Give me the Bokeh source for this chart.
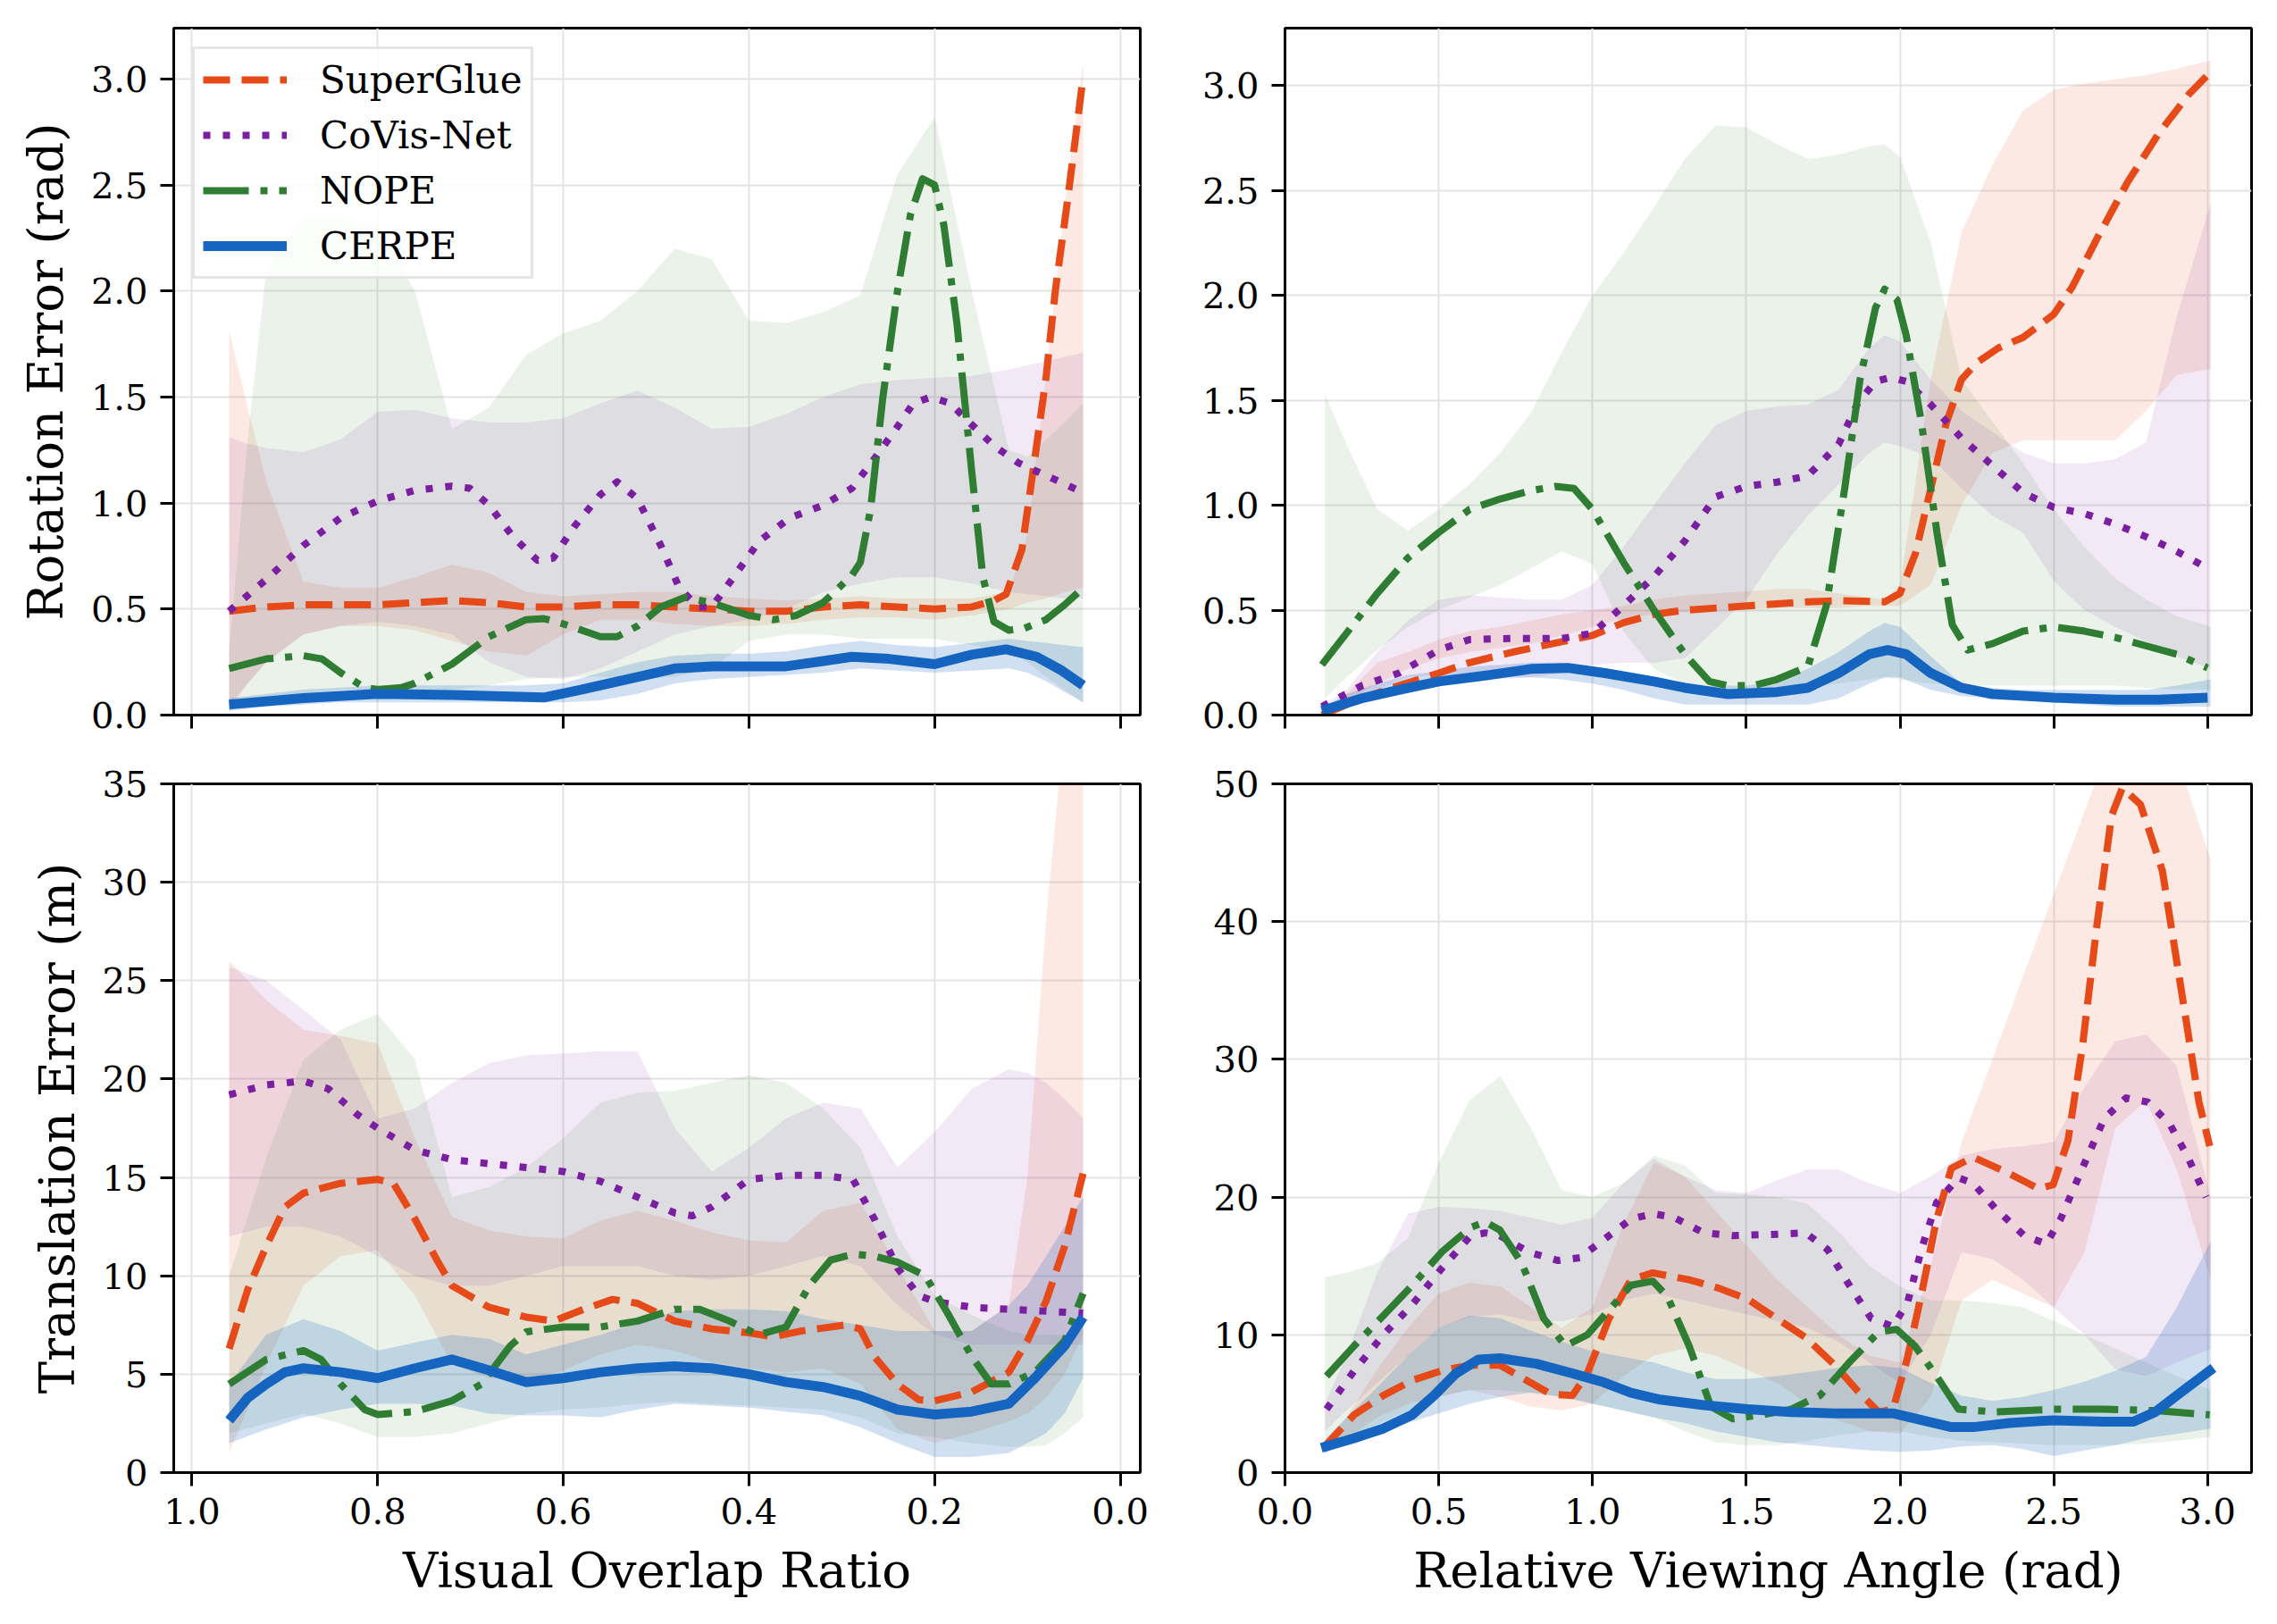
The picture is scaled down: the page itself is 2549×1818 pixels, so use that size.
from bokeh.plotting import figure
from bokeh.layouts import column, row
from bokeh.models import Range1d, FixedTicker
from bokeh.embed import file_html
from bokeh.resources import INLINE

# ---------------------------------------------------------------- data
methods = ["SuperGlue", "CoVis-Net", "NOPE", "CERPE"]

overlap_ticks = [1.0, 0.8, 0.6, 0.4, 0.2, 0.0]
overlap_tick_labels = ["1.0", "0.8", "0.6", "0.4", "0.2", "0.0"]
angle_ticks = [0.0, 0.5, 1.0, 1.5, 2.0, 2.5, 3.0]
angle_tick_labels = ["0.0", "0.5", "1.0", "1.5", "2.0", "2.5", "3.0"]
rot_ticks = [0.0, 0.5, 1.0, 1.5, 2.0, 2.5, 3.0]
rot_tick_labels = ["0.0", "0.5", "1.0", "1.5", "2.0", "2.5", "3.0"]
trans_ov_ticks = [0, 5, 10, 15, 20, 25, 30, 35]
trans_ov_tick_labels = ["0", "5", "10", "15", "20", "25", "30", "35"]
trans_ang_ticks = [0, 10, 20, 30, 40, 50]
trans_ang_tick_labels = ["0", "10", "20", "30", "40", "50"]

# --- rotation error vs. visual overlap ratio
rot_ov_sg_x = [0.96, 0.92, 0.88, 0.84, 0.80, 0.76, 0.72, 0.68, 0.64, 0.60, 0.56, 0.52, 0.48, 0.44, 0.40,
               0.36, 0.32, 0.28, 0.24, 0.20, 0.16, 0.136, 0.123, 0.106, 0.093, 0.080, 0.070, 0.057, 0.048, 0.040]
rot_ov_sg_y = [0.49, 0.51, 0.52, 0.52, 0.52, 0.53, 0.54, 0.53, 0.51, 0.51, 0.52, 0.52, 0.51, 0.50, 0.49,
               0.49, 0.51, 0.52, 0.51, 0.50, 0.51, 0.54, 0.57, 0.78, 1.18, 1.59, 2.00, 2.42, 2.73, 3.01]
rot_ov_cv_x = [0.96, 0.92, 0.88, 0.84, 0.80, 0.76, 0.72, 0.701, 0.68, 0.654, 0.628, 0.611, 0.588, 0.56, 0.542,
               0.52, 0.495, 0.475, 0.455, 0.44, 0.415, 0.389, 0.356, 0.32, 0.289, 0.263, 0.24, 0.223, 0.204,
               0.183, 0.16, 0.136, 0.11, 0.08, 0.04]
rot_ov_cv_y = [0.49, 0.64, 0.80, 0.93, 1.01, 1.06, 1.08, 1.07, 0.99, 0.84, 0.73, 0.74, 0.89, 1.04, 1.10,
               1.02, 0.80, 0.60, 0.51, 0.51, 0.66, 0.82, 0.93, 0.99, 1.07, 1.22, 1.36, 1.47, 1.50,
               1.47, 1.37, 1.27, 1.19, 1.13, 1.05]
rot_ov_np_x = [0.96, 0.92, 0.88, 0.86, 0.84, 0.814, 0.80, 0.774, 0.76, 0.72, 0.68, 0.64, 0.621, 0.60, 0.56,
               0.542, 0.52, 0.495, 0.469, 0.44, 0.40, 0.373, 0.349, 0.32, 0.289, 0.28, 0.269, 0.256, 0.24,
               0.226, 0.213, 0.20, 0.19, 0.176, 0.16, 0.148, 0.136, 0.12, 0.103, 0.08, 0.06, 0.04]
rot_ov_np_y = [0.22, 0.265, 0.28, 0.265, 0.20, 0.13, 0.12, 0.13, 0.15, 0.24, 0.37, 0.45, 0.455, 0.43, 0.37,
               0.37, 0.42, 0.51, 0.555, 0.53, 0.47, 0.45, 0.47, 0.53, 0.66, 0.72, 0.97, 1.49, 2.00,
               2.36, 2.53, 2.50, 2.31, 1.85, 1.15, 0.65, 0.44, 0.40, 0.41, 0.45, 0.52, 0.60]
rot_ov_ce_x = [0.96, 0.88, 0.80, 0.72, 0.621, 0.581, 0.52, 0.48, 0.44, 0.36, 0.32, 0.289, 0.249, 0.20,
               0.16, 0.123, 0.09, 0.063, 0.04]
rot_ov_ce_y = [0.05, 0.08, 0.10, 0.095, 0.083, 0.12, 0.18, 0.22, 0.23, 0.23, 0.255, 0.275, 0.265, 0.24,
               0.285, 0.31, 0.275, 0.21, 0.14]

rot_ov_band_x = [0.96, 0.94, 0.92, 0.88, 0.84, 0.80, 0.76, 0.72, 0.68, 0.64, 0.60, 0.56, 0.52, 0.48,
                 0.44, 0.40, 0.36, 0.32, 0.28, 0.24, 0.20, 0.16, 0.12, 0.10, 0.08, 0.06, 0.04]
rot_ov_sg_hi = [1.81, 1.45, 1.10, 0.63, 0.60, 0.60, 0.65, 0.71, 0.67, 0.58, 0.56, 0.57, 0.58, 0.58,
                0.56, 0.55, 0.54, 0.55, 0.56, 0.55, 0.55, 0.55, 0.58, 0.85, 1.60, 2.40, 3.08]
rot_ov_sg_lo = [0.02, 0.15, 0.25, 0.38, 0.42, 0.42, 0.40, 0.35, 0.30, 0.28, 0.38, 0.45, 0.45, 0.43,
                0.42, 0.42, 0.43, 0.45, 0.46, 0.46, 0.45, 0.47, 0.50, 0.53, 0.55, 0.58, 0.60]
rot_ov_cv_hi = [1.31, 1.28, 1.26, 1.24, 1.30, 1.43, 1.44, 1.40, 1.38, 1.38, 1.40, 1.47, 1.53, 1.45,
                1.35, 1.36, 1.42, 1.50, 1.56, 1.58, 1.59, 1.60, 1.63, 1.65, 1.67, 1.69, 1.71]
rot_ov_cv_lo = [0.05, 0.15, 0.25, 0.38, 0.42, 0.44, 0.42, 0.38, 0.25, 0.18, 0.17, 0.22, 0.30, 0.38,
                0.42, 0.45, 0.50, 0.58, 0.62, 0.65, 0.65, 0.62, 0.58, 0.57, 0.56, 0.55, 0.55]
rot_ov_np_hi = [0.30, 1.30, 2.10, 2.35, 2.35, 2.30, 2.00, 1.35, 1.45, 1.70, 1.80, 1.86, 2.00, 2.20,
                2.15, 1.86, 1.85, 1.90, 1.98, 2.55, 2.82, 2.00, 1.25, 1.22, 1.30, 1.38, 1.47]
rot_ov_np_lo = [0.02, 0.05, 0.08, 0.10, 0.12, 0.12, 0.11, 0.12, 0.14, 0.17, 0.18, 0.18, 0.17, 0.18,
                0.22, 0.35, 0.38, 0.38, 0.36, 0.36, 0.36, 0.33, 0.30, 0.25, 0.18, 0.12, 0.06]
rot_ov_ce_hi = [0.08, 0.09, 0.10, 0.12, 0.13, 0.14, 0.14, 0.14, 0.14, 0.14, 0.15, 0.20, 0.25, 0.28,
                0.29, 0.29, 0.30, 0.33, 0.35, 0.33, 0.32, 0.34, 0.36, 0.35, 0.34, 0.33, 0.32]
rot_ov_ce_lo = [0.02, 0.03, 0.04, 0.05, 0.06, 0.06, 0.06, 0.06, 0.06, 0.06, 0.06, 0.07, 0.10, 0.15,
                0.17, 0.18, 0.19, 0.20, 0.22, 0.21, 0.20, 0.21, 0.22, 0.20, 0.16, 0.11, 0.06]

# --- rotation error vs. relative viewing angle
rot_ang_sg_x = [0.12, 0.25, 0.37, 0.50, 0.60, 0.74, 0.90, 1.00, 1.10, 1.20, 1.30, 1.50, 1.70, 1.80, 1.95,
                2.00, 2.05, 2.10, 2.15, 2.20, 2.25, 2.32, 2.40, 2.50, 2.56, 2.64, 2.74, 2.84, 2.94, 3.00]
rot_ang_sg_y = [0.00, 0.08, 0.14, 0.20, 0.25, 0.30, 0.35, 0.38, 0.44, 0.48, 0.50, 0.52, 0.54, 0.545, 0.54,
                0.58, 0.77, 1.08, 1.39, 1.60, 1.68, 1.75, 1.80, 1.91, 2.04, 2.27, 2.54, 2.77, 2.96, 3.05]
rot_ang_cv_x = [0.12, 0.25, 0.37, 0.50, 0.60, 0.74, 0.90, 1.00, 1.10, 1.20, 1.30, 1.40, 1.50, 1.60, 1.70,
                1.80, 1.86, 1.92, 1.97, 2.02, 2.10, 2.20, 2.30, 2.40, 2.50, 2.60, 2.70, 2.80, 2.90, 3.00]
rot_ang_cv_y = [0.04, 0.14, 0.20, 0.31, 0.36, 0.365, 0.365, 0.39, 0.52, 0.66, 0.83, 1.04, 1.09, 1.11, 1.14,
                1.29, 1.48, 1.59, 1.61, 1.59, 1.48, 1.32, 1.19, 1.06, 0.99, 0.96, 0.91, 0.85, 0.78, 0.70]
rot_ang_np_x = [0.12, 0.20, 0.30, 0.40, 0.50, 0.60, 0.70, 0.80, 0.88, 0.94, 1.00, 1.10, 1.20, 1.30, 1.38,
                1.44, 1.52, 1.60, 1.70, 1.76, 1.82, 1.87, 1.92, 1.95, 1.99, 2.02, 2.07, 2.12, 2.17, 2.22,
                2.30, 2.40, 2.50, 2.60, 2.70, 2.80, 2.90, 3.00]
rot_ang_np_y = [0.24, 0.39, 0.58, 0.75, 0.87, 0.98, 1.03, 1.07, 1.09, 1.08, 0.98, 0.73, 0.50, 0.29, 0.16,
                0.14, 0.14, 0.17, 0.23, 0.52, 1.08, 1.60, 1.94, 2.03, 1.98, 1.81, 1.39, 0.87, 0.43, 0.31,
                0.34, 0.40, 0.42, 0.40, 0.37, 0.33, 0.29, 0.225]
rot_ang_ce_x = [0.12, 0.25, 0.37, 0.50, 0.66, 0.80, 0.92, 1.04, 1.20, 1.30, 1.44, 1.60, 1.70, 1.80, 1.90,
                1.96, 2.02, 2.10, 2.20, 2.30, 2.50, 2.70, 2.84, 3.00]
rot_ang_ce_y = [0.02, 0.08, 0.12, 0.16, 0.19, 0.22, 0.225, 0.20, 0.16, 0.13, 0.10, 0.11, 0.13, 0.20, 0.29,
                0.31, 0.29, 0.20, 0.13, 0.10, 0.083, 0.073, 0.073, 0.083]

rot_ang_band_x = [0.13, 0.2, 0.3, 0.4, 0.5, 0.6, 0.7, 0.8, 0.9, 1.0, 1.1, 1.2, 1.3, 1.4, 1.5, 1.6, 1.7,
                  1.8, 1.9, 1.95, 2.0, 2.1, 2.2, 2.3, 2.4, 2.5, 2.6, 2.7, 2.8, 2.9, 3.01]
rot_ang_sg_hi = [0.00, 0.10, 0.25, 0.30, 0.36, 0.40, 0.42, 0.45, 0.48, 0.50, 0.52, 0.55, 0.57, 0.58, 0.59,
                 0.60, 0.60, 0.58, 0.56, 0.55, 0.62, 1.60, 2.30, 2.62, 2.88, 2.98, 3.01, 3.03, 3.05, 3.08, 3.12]
rot_ang_sg_lo = [0.00, 0.07, 0.15, 0.22, 0.27, 0.30, 0.32, 0.34, 0.38, 0.42, 0.46, 0.48, 0.49, 0.50, 0.50,
                 0.51, 0.51, 0.51, 0.52, 0.52, 0.52, 0.62, 1.00, 1.25, 1.31, 1.31, 1.31, 1.31, 1.45, 1.62, 1.65]
rot_ang_cv_hi = [0.05, 0.12, 0.30, 0.45, 0.55, 0.57, 0.56, 0.55, 0.55, 0.62, 0.80, 1.00, 1.20, 1.38, 1.45,
                 1.47, 1.48, 1.55, 1.75, 1.81, 1.78, 1.60, 1.45, 1.35, 1.25, 1.20, 1.20, 1.22, 1.30, 1.90, 2.44]
rot_ang_cv_lo = [0.02, 0.05, 0.12, 0.18, 0.19, 0.18, 0.17, 0.18, 0.20, 0.24, 0.25, 0.25, 0.27, 0.41, 0.55,
                 0.77, 0.95, 1.10, 1.25, 1.30, 1.28, 1.23, 1.08, 0.95, 0.87, 0.64, 0.50, 0.42, 0.35, 0.28, 0.22]
rot_ang_np_hi = [1.53, 1.29, 0.98, 0.88, 0.98, 1.10, 1.25, 1.44, 1.73, 2.00, 2.20, 2.42, 2.65, 2.81, 2.80,
                 2.72, 2.65, 2.67, 2.71, 2.72, 2.66, 2.25, 1.60, 1.40, 1.20, 0.98, 0.80, 0.65, 0.55, 0.47, 0.42]
rot_ang_np_lo = [0.08, 0.18, 0.31, 0.42, 0.50, 0.56, 0.62, 0.70, 0.78, 0.72, 0.40, 0.22, 0.15, 0.12, 0.12,
                 0.12, 0.13, 0.15, 0.17, 0.18, 0.17, 0.15, 0.14, 0.14, 0.14, 0.14, 0.14, 0.14, 0.13, 0.12, 0.12]
rot_ang_ce_hi = [0.04, 0.10, 0.15, 0.19, 0.21, 0.23, 0.24, 0.25, 0.25, 0.22, 0.17, 0.14, 0.13, 0.14, 0.14,
                 0.16, 0.22, 0.30, 0.40, 0.44, 0.42, 0.28, 0.15, 0.13, 0.12, 0.12, 0.12, 0.12, 0.12, 0.14, 0.17]
rot_ang_ce_lo = [0.00, 0.04, 0.08, 0.11, 0.14, 0.17, 0.18, 0.18, 0.17, 0.15, 0.12, 0.08, 0.05, 0.05, 0.05,
                 0.05, 0.05, 0.08, 0.15, 0.18, 0.18, 0.12, 0.09, 0.08, 0.07, 0.06, 0.05, 0.04, 0.04, 0.04, 0.04]

# --- translation error vs. visual overlap ratio
tr_ov_sg_x = [0.96, 0.94, 0.92, 0.90, 0.88, 0.84, 0.80, 0.783, 0.76, 0.735, 0.72, 0.68, 0.64, 0.61, 0.578,
              0.547, 0.52, 0.48, 0.44, 0.40, 0.374, 0.343, 0.296, 0.28, 0.265, 0.24, 0.217, 0.20, 0.16,
              0.12, 0.10, 0.08, 0.06, 0.04]
tr_ov_sg_y = [6.3, 9.3, 11.5, 13.5, 14.2, 14.7, 14.9, 14.7, 12.9, 10.7, 9.5, 8.4, 7.9, 7.7, 8.3,
              8.8, 8.6, 7.7, 7.3, 7.1, 6.9, 7.2, 7.5, 7.3, 5.9, 4.5, 3.7, 3.65, 4.1,
              5.1, 6.7, 8.7, 11.5, 15.2]
tr_ov_cv_x = [0.96, 0.92, 0.88, 0.853, 0.822, 0.80, 0.76, 0.72, 0.68, 0.64, 0.60, 0.56, 0.52, 0.48, 0.461,
              0.44, 0.40, 0.36, 0.32, 0.288, 0.265, 0.24, 0.217, 0.20, 0.16, 0.12, 0.08, 0.04]
tr_ov_cv_y = [19.2, 19.7, 19.9, 19.5, 18.2, 17.5, 16.4, 15.9, 15.7, 15.5, 15.3, 14.8, 14.0, 13.2, 13.05,
              13.5, 14.9, 15.1, 15.1, 14.9, 12.9, 10.4, 9.0, 8.7, 8.4, 8.3, 8.2, 8.1]
tr_ov_np_x = [0.96, 0.92, 0.88, 0.861, 0.84, 0.814, 0.80, 0.76, 0.72, 0.688, 0.657, 0.64, 0.60, 0.56, 0.52,
              0.48, 0.453, 0.421, 0.39, 0.36, 0.335, 0.312, 0.288, 0.265, 0.24, 0.21, 0.186, 0.16, 0.139,
              0.12, 0.092, 0.06, 0.04]
tr_ov_np_y = [4.5, 5.75, 6.2, 5.75, 4.5, 3.2, 2.95, 3.1, 3.65, 4.5, 6.45, 7.15, 7.4, 7.4, 7.7,
              8.3, 8.3, 7.7, 7.0, 7.4, 9.5, 10.8, 11.1, 11.0, 10.7, 10.0, 8.1, 5.9, 4.5,
              4.5, 5.1, 6.7, 9.1]
tr_ov_ce_x = [0.96, 0.94, 0.92, 0.90, 0.88, 0.84, 0.80, 0.76, 0.72, 0.68, 0.64, 0.60, 0.56, 0.52, 0.48,
              0.44, 0.40, 0.36, 0.32, 0.28, 0.24, 0.20, 0.16, 0.12, 0.092, 0.06, 0.04]
tr_ov_ce_y = [2.65, 3.8, 4.5, 5.1, 5.3, 5.1, 4.8, 5.3, 5.75, 5.2, 4.6, 4.8, 5.1, 5.3, 5.4,
              5.3, 5.0, 4.6, 4.35, 3.9, 3.2, 2.95, 3.1, 3.5, 4.8, 6.45, 7.9]

tr_ov_band_x = [0.96, 0.92, 0.88, 0.84, 0.80, 0.76, 0.72, 0.68, 0.64, 0.60, 0.56, 0.52, 0.48, 0.44,
                0.40, 0.36, 0.32, 0.28, 0.24, 0.20, 0.16, 0.12, 0.10, 0.08, 0.06, 0.04]
tr_ov_sg_hi = [26.0, 24.0, 22.5, 22.2, 21.8, 17.0, 13.0, 12.3, 12.0, 11.9, 12.8, 13.3, 12.8, 12.2,
               11.8, 11.7, 13.3, 13.7, 10.5, 7.2, 7.2, 8.5, 15.0, 28.0, 38.0, 38.0]
tr_ov_sg_lo = [1.0, 5.5, 9.5, 11.0, 11.3, 9.0, 5.5, 4.8, 4.6, 5.2, 6.0, 6.5, 6.2, 5.6,
               5.3, 5.1, 5.3, 4.5, 2.2, 1.5, 2.0, 2.6, 3.0, 3.8, 5.0, 7.0]
tr_ov_cv_hi = [25.7, 25.0, 23.5, 22.0, 18.0, 18.5, 19.8, 20.8, 21.2, 21.3, 21.4, 21.4, 17.5, 15.3,
               16.5, 18.0, 18.8, 18.5, 15.5, 17.3, 19.5, 20.5, 20.3, 19.8, 19.0, 18.0]
tr_ov_cv_lo = [12.0, 12.5, 12.5, 12.0, 11.0, 10.0, 9.5, 9.5, 10.0, 10.5, 10.5, 10.5, 10.0, 9.8,
               10.0, 10.5, 11.0, 10.5, 8.5, 7.0, 6.5, 6.5, 6.5, 6.5, 6.5, 6.5]
tr_ov_np_hi = [10.0, 16.0, 21.0, 22.5, 23.3, 21.0, 14.0, 14.5, 15.5, 17.0, 18.8, 19.3, 19.4, 19.8,
               20.2, 19.8, 18.5, 16.5, 12.0, 9.0, 8.0, 7.2, 7.0, 7.0, 7.0, 7.5]
tr_ov_np_lo = [2.0, 2.5, 3.0, 2.5, 1.8, 1.8, 2.0, 2.5, 3.0, 3.2, 3.3, 3.5, 3.6, 3.5,
               3.4, 3.3, 3.2, 2.8, 2.0, 1.8, 1.5, 1.3, 1.3, 1.4, 2.0, 2.8]
tr_ov_ce_hi = [4.5, 7.0, 7.8, 7.2, 6.2, 6.6, 7.0, 6.8, 6.0, 6.5, 7.0, 7.6, 8.2, 8.3,
               8.3, 8.2, 7.8, 7.5, 7.2, 7.2, 7.2, 8.5, 9.5, 11.0, 12.5, 14.0]
tr_ov_ce_lo = [1.5, 2.2, 2.8, 3.2, 3.5, 3.5, 3.4, 3.0, 2.9, 2.9, 2.8, 3.2, 3.5, 3.4,
               3.3, 3.1, 2.9, 2.3, 1.5, 0.8, 0.8, 1.0, 1.5, 2.0, 3.0, 4.8]

# --- translation error vs. relative viewing angle
tr_ang_sg_x = [0.125, 0.225, 0.32, 0.414, 0.509, 0.604, 0.699, 0.793, 0.864, 0.935, 0.983, 1.054, 1.125,
               1.196, 1.314, 1.409, 1.504, 1.598, 1.693, 1.788, 1.859, 1.93, 1.977, 2.025, 2.072, 2.119,
               2.167, 2.238, 2.356, 2.451, 2.498, 2.546, 2.593, 2.64, 2.688, 2.723, 2.782, 2.853, 2.924,
               2.972, 3.007]
tr_ang_sg_y = [1.8, 4.2, 5.6, 6.7, 7.4, 7.8, 7.8, 6.6, 5.7, 5.6, 7.2, 11.2, 14.0,
               14.5, 14.0, 13.4, 12.6, 11.2, 9.8, 7.8, 6.0, 4.4, 4.6, 8.4, 13.2, 18.4,
               22.1, 22.9, 21.7, 20.6, 20.9, 24.1, 30.9, 39.7, 47.7, 49.7, 48.5, 43.7, 33.7,
               26.9, 23.7]
tr_ang_cv_x = [0.135, 0.225, 0.32, 0.414, 0.509, 0.604, 0.651, 0.699, 0.793, 0.888, 0.959, 1.03, 1.125,
               1.196, 1.267, 1.362, 1.456, 1.598, 1.693, 1.764, 1.835, 1.906, 1.977, 2.025, 2.072, 2.119,
               2.19, 2.238, 2.309, 2.404, 2.475, 2.522, 2.593, 2.664, 2.735, 2.806, 2.877, 2.936, 2.995]
tr_ang_cv_y = [4.6, 7.4, 10.0, 12.2, 14.8, 17.2, 17.4, 17.2, 16.0, 15.4, 15.6, 16.8, 18.4,
               18.8, 18.5, 17.4, 17.2, 17.3, 17.4, 16.2, 13.6, 11.2, 10.6, 12.4, 16.4, 19.6,
               21.4, 21.0, 19.2, 17.2, 16.6, 18.4, 22.1, 25.7, 27.2, 26.9, 25.3, 22.9, 20.0]
tr_ang_np_x = [0.135, 0.225, 0.32, 0.414, 0.509, 0.604, 0.651, 0.699, 0.77, 0.841, 0.912, 0.983, 1.054,
               1.125, 1.196, 1.243, 1.314, 1.385, 1.456, 1.551, 1.646, 1.74, 1.835, 1.93, 1.989, 2.048,
               2.119, 2.19, 2.309, 2.498, 2.664, 2.83, 3.007]
tr_ang_np_y = [7.0, 9.2, 11.4, 13.6, 16.0, 17.8, 18.2, 17.6, 15.2, 11.2, 9.2, 10.0, 11.8,
               13.6, 13.9, 12.8, 9.2, 4.8, 3.9, 4.2, 4.6, 5.6, 8.0, 10.2, 10.4, 9.2,
               7.0, 4.6, 4.4, 4.6, 4.6, 4.5, 4.2]
tr_ang_ce_x = [0.118, 0.225, 0.32, 0.414, 0.485, 0.556, 0.628, 0.699, 0.817, 0.935, 1.03, 1.125, 1.22,
               1.362, 1.504, 1.646, 1.788, 1.977, 2.072, 2.167, 2.238, 2.356, 2.498, 2.664, 2.759, 2.83,
               2.924, 3.019]
tr_ang_ce_y = [1.8, 2.5, 3.2, 4.2, 5.6, 7.2, 8.2, 8.3, 7.9, 7.2, 6.6, 5.8, 5.3,
               4.9, 4.6, 4.4, 4.3, 4.3, 3.8, 3.3, 3.3, 3.6, 3.8, 3.7, 3.7, 4.4,
               6.0, 7.6]

tr_ang_band_x = [0.13, 0.2, 0.3, 0.4, 0.5, 0.6, 0.7, 0.8, 0.9, 1.0, 1.1, 1.2, 1.3, 1.4, 1.5, 1.6, 1.7,
                 1.8, 1.9, 2.0, 2.1, 2.2, 2.3, 2.4, 2.5, 2.6, 2.7, 2.8, 2.9, 3.01]
tr_ang_sg_hi = [2.0, 4.0, 7.5, 10.5, 13.0, 13.8, 13.5, 12.0, 10.5, 12.0, 18.0, 22.5, 21.5, 19.0, 16.5,
                14.0, 12.0, 10.0, 8.5, 8.0, 15.0, 24.0, 30.0, 36.0, 42.0, 48.0, 54.0, 54.0, 52.0, 44.5]
tr_ang_sg_lo = [1.5, 2.5, 4.0, 5.0, 5.5, 6.0, 5.5, 4.8, 4.5, 5.0, 7.0, 8.5, 9.0, 8.5, 7.5,
                6.5, 5.0, 3.8, 3.0, 2.8, 5.5, 12.5, 14.0, 13.0, 12.0, 16.0, 25.0, 27.0, 22.0, 14.0]
tr_ang_cv_hi = [5.0, 8.5, 14.5, 18.8, 19.3, 19.2, 19.0, 18.5, 18.0, 18.5, 21.0, 22.8, 21.5, 20.5, 20.3,
                21.2, 22.0, 22.0, 21.0, 20.3, 21.5, 23.0, 23.5, 23.7, 24.0, 28.0, 31.3, 31.8, 29.5, 20.0]
tr_ang_cv_lo = [3.0, 4.5, 6.5, 8.5, 10.5, 11.3, 11.5, 11.0, 11.0, 11.5, 12.5, 13.0, 12.5, 12.0, 11.5,
                11.0, 10.5, 9.5, 8.0, 6.5, 10.0, 16.0, 15.5, 14.0, 12.0, 10.0, 7.5, 7.0, 8.0, 9.0]
tr_ang_np_hi = [14.2, 14.5, 15.2, 17.0, 22.5, 27.0, 28.8, 25.0, 20.5, 20.0, 21.0, 23.0, 22.3, 20.3, 20.2,
                20.0, 19.5, 17.5, 15.0, 13.5, 12.5, 12.5, 12.3, 12.0, 11.0, 10.0, 9.0, 8.0, 7.0, 6.0]
tr_ang_np_lo = [1.6, 2.5, 3.5, 4.5, 5.5, 6.0, 6.0, 5.8, 5.5, 5.0, 4.5, 4.0, 3.0, 2.2, 2.0,
                2.0, 2.3, 2.7, 3.0, 3.0, 2.6, 2.3, 2.2, 2.1, 2.0, 2.0, 2.0, 2.1, 2.3, 2.6]
tr_ang_ce_hi = [2.4, 4.0, 6.2, 8.5, 10.5, 11.4, 11.2, 10.3, 9.5, 8.8, 8.4, 8.0, 7.3, 6.8, 6.8,
                7.0, 7.3, 7.6, 7.8, 7.6, 6.5, 5.6, 5.2, 5.5, 6.0, 6.6, 7.4, 8.4, 12.0, 16.8]
tr_ang_ce_lo = [1.4, 2.2, 3.0, 3.6, 4.3, 5.0, 5.5, 5.8, 5.5, 5.0, 4.5, 4.0, 3.6, 3.0, 2.6,
                2.2, 2.0, 1.8, 1.6, 1.5, 1.6, 1.9, 2.0, 1.7, 1.2, 1.6, 2.0, 2.5, 2.8, 3.2]

# ---------------------------------------------------------------- styling
FONT = "DejaVu Serif"
COLORS = {"SuperGlue": "#E64A19", "CoVis-Net": "#7B1FA2", "NOPE": "#2E7D32", "CERPE": "#1565C0"}
DASHES = {"SuperGlue": "30 13", "CoVis-Net": "8 14", "NOPE": "51 13 8 13", "CERPE": "solid"}
WIDTHS = {"SuperGlue": 8, "CoVis-Net": 8, "NOPE": 8, "CERPE": 11}
BAND_ALPHA = {"SuperGlue": 0.12, "CoVis-Net": 0.1, "NOPE": 0.1, "CERPE": 0.2}


def make_panel(width, height, borders, x_range, y_range, xticks, xlabels, yticks, ylabels,
               xlabel=None, ylabel=None, show_xlabels=True):
    left, right, top, bottom = borders
    p = figure(width=width, height=height, x_range=Range1d(*x_range), y_range=Range1d(*y_range),
               output_backend="svg", toolbar_location=None,
               min_border_left=left, min_border_right=right,
               min_border_top=top, min_border_bottom=bottom)
    p.background_fill_color = "white"
    p.border_fill_color = "white"
    p.outline_line_color = "black"
    p.outline_line_width = 3
    p.outline_line_alpha = 1

    p.xaxis.ticker = FixedTicker(ticks=xticks)
    p.yaxis.ticker = FixedTicker(ticks=yticks)
    p.xaxis.major_label_overrides = dict(zip(xticks, xlabels))
    p.yaxis.major_label_overrides = dict(zip(yticks, ylabels))
    for ax in (p.xaxis[0], p.yaxis[0]):
        ax.axis_line_color = "black"
        ax.axis_line_width = 3
        ax.major_tick_out = 15
        ax.major_tick_in = 0
        ax.major_tick_line_width = 3
        ax.minor_tick_line_color = None
        ax.major_label_text_font = FONT
        ax.major_label_text_font_size = "40px"
        ax.major_label_text_color = "black"
        ax.axis_label_text_font = FONT
        ax.axis_label_text_font_size = "54.5px"
        ax.axis_label_text_font_style = "normal"
        ax.axis_label_text_color = "black"
    p.xaxis.major_label_standoff = 13
    p.yaxis.major_label_standoff = 14
    p.xaxis.axis_label_standoff = 17
    p.yaxis.axis_label_standoff = 16
    if not show_xlabels:
        # shared x axis: tick marks only
        p.xaxis.major_label_text_color = None
        p.xaxis.major_label_text_alpha = 0
        p.xaxis.major_label_standoff = -40
    if xlabel:
        p.xaxis.axis_label = xlabel
    if ylabel:
        p.yaxis.axis_label = ylabel

    p.grid.grid_line_color = "#e4e4e4"
    p.grid.grid_line_width = 2
    return p


def draw_series(p, band_x, bands, lines, with_legend=False):
    for name, (lo, hi) in zip(methods, bands):
        p.varea(x=band_x, y1=lo, y2=hi, fill_color=COLORS[name], fill_alpha=BAND_ALPHA[name])
    for name, (xs, ys) in zip(methods, lines):
        kw = dict(line_color=COLORS[name], line_width=WIDTHS[name], line_dash=DASHES[name],
                  line_join="round")
        if with_legend:
            kw["legend_label"] = name
        p.line(xs, ys, **kw)


ov_range = (1.0197, -0.0216)
ang_range = (0.0, 3.143)

# top row: frames at y 31..800; bottom row: frames at y 877..1648
tl = make_panel(1296, 850, (194, 20, 31, 50), ov_range, (0.0, 3.24), overlap_ticks, overlap_tick_labels,
                rot_ticks, rot_tick_labels, ylabel="Rotation Error (rad)", show_xlabels=False)
draw_series(tl, rot_ov_band_x,
            [(rot_ov_sg_lo, rot_ov_sg_hi), (rot_ov_cv_lo, rot_ov_cv_hi),
             (rot_ov_np_lo, rot_ov_np_hi), (rot_ov_ce_lo, rot_ov_ce_hi)],
            [(rot_ov_sg_x, rot_ov_sg_y), (rot_ov_cv_x, rot_ov_cv_y),
             (rot_ov_np_x, rot_ov_np_y), (rot_ov_ce_x, rot_ov_ce_y)], with_legend=True)

tr = make_panel(1253, 850, (142, 29, 31, 50), ang_range, (0.0, 3.274), angle_ticks, angle_tick_labels,
                rot_ticks, rot_tick_labels, show_xlabels=False)
draw_series(tr, rot_ang_band_x,
            [(rot_ang_sg_lo, rot_ang_sg_hi), (rot_ang_cv_lo, rot_ang_cv_hi),
             (rot_ang_np_lo, rot_ang_np_hi), (rot_ang_ce_lo, rot_ang_ce_hi)],
            [(rot_ang_sg_x, rot_ang_sg_y), (rot_ang_cv_x, rot_ang_cv_y),
             (rot_ang_np_x, rot_ang_np_y), (rot_ang_ce_x, rot_ang_ce_y)])

bl = make_panel(1296, 968, (194, 20, 27, 170), ov_range, (0, 35), overlap_ticks, overlap_tick_labels,
                trans_ov_ticks, trans_ov_tick_labels, xlabel="Visual Overlap Ratio",
                ylabel="Translation Error (m)")
draw_series(bl, tr_ov_band_x,
            [(tr_ov_sg_lo, tr_ov_sg_hi), (tr_ov_cv_lo, tr_ov_cv_hi),
             (tr_ov_np_lo, tr_ov_np_hi), (tr_ov_ce_lo, tr_ov_ce_hi)],
            [(tr_ov_sg_x, tr_ov_sg_y), (tr_ov_cv_x, tr_ov_cv_y),
             (tr_ov_np_x, tr_ov_np_y), (tr_ov_ce_x, tr_ov_ce_y)])

br = make_panel(1253, 968, (142, 29, 27, 170), ang_range, (0, 50), angle_ticks, angle_tick_labels,
                trans_ang_ticks, trans_ang_tick_labels, xlabel="Relative Viewing Angle (rad)")
draw_series(br, tr_ang_band_x,
            [(tr_ang_sg_lo, tr_ang_sg_hi), (tr_ang_cv_lo, tr_ang_cv_hi),
             (tr_ang_np_lo, tr_ang_np_hi), (tr_ang_ce_lo, tr_ang_ce_hi)],
            [(tr_ang_sg_x, tr_ang_sg_y), (tr_ang_cv_x, tr_ang_cv_y),
             (tr_ang_np_x, tr_ang_np_y), (tr_ang_ce_x, tr_ang_ce_y)])

leg = tl.legend[0]
leg.location = "top_left"
leg.margin = 21
leg.padding = 9
leg.spacing = 12
leg.glyph_width = 94
leg.glyph_height = 50
leg.label_height = 50
leg.label_standoff = 37
leg.label_text_font = FONT
leg.label_text_font_size = "42px"
leg.label_text_color = "black"
leg.border_line_color = "#cccccc"
leg.border_line_width = 3
leg.background_fill_color = "white"
leg.background_fill_alpha = 0.8

layout = column(row(tl, tr), row(bl, br))
open("out.html", "w").write(file_html(layout, INLINE))
